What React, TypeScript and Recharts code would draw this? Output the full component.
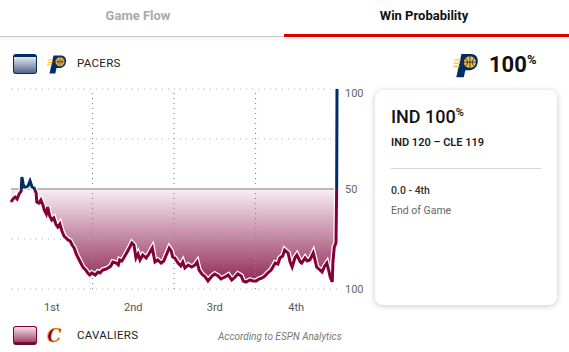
import { ComposedChart, Line, Area, XAxis, YAxis, ReferenceLine } from 'recharts';

// game clock in minutes elapsed, and Pacers win probability (%)
const gameMinutes = [
  0, 0.3, 0.6, 0.9, 1.2, 1.5, 1.6, 1.8, 1.9, 2.2,
  2.5, 2.8, 3.1, 3.4, 3.7, 3.8, 4.1, 4.4, 4.7, 4.9,
  5.2, 5.4, 5.7, 6.0, 6.3, 6.6, 6.9, 7.2, 7.5, 7.8,
  8.1, 8.4, 8.7, 9.0, 9.3, 9.6, 9.9, 10.2, 10.5, 10.7,
  11.0, 11.3, 11.6, 11.9, 12.4, 12.8, 13.1, 13.5, 14.0, 14.3,
  14.7, 15.0, 15.5, 15.8, 16.0, 16.3, 16.6, 17.1, 17.5, 17.8,
  18.1, 18.4, 18.7, 19.0, 19.4, 19.9, 20.3, 20.8, 21.2, 21.6,
  22.1, 22.5, 22.8, 23.3, 23.6, 23.8, 24.1, 24.6, 25.0, 25.3,
  25.6, 26.1, 26.6, 27.1, 27.4, 27.7, 28.1, 28.6, 29.0, 29.6,
  30.0, 30.5, 30.9, 31.5, 32.0, 32.5, 33.0, 33.4, 33.9, 34.2,
  34.6, 35.2, 35.6, 36.1, 36.5, 37.0, 37.4, 37.8, 38.3, 38.9,
  39.3, 39.6, 40.0, 40.3, 40.8, 41.1, 41.4, 41.8, 42.1, 42.6,
  42.8, 43.3, 43.6, 44.0, 44.5, 44.7, 45.0, 45.5, 45.8, 46.2,
  46.5, 46.8, 47.0, 47.3, 47.4, 47.6, 47.85, 47.95, 48,
];

const pacersWinPct = [
  43.5, 45, 46, 45, 47.5, 49, 56, 52.5, 51, 51,
  51.5, 54, 51, 50.5, 48, 43.5, 43, 44.5, 42, 39.5,
  37.5, 41, 36.5, 34.5, 35.5, 32.5, 31, 32.5, 29, 26.5,
  25.5, 24.5, 24, 22, 20.5, 17.5, 15.5, 13.5, 11.5, 10.5,
  9.5, 8, 7, 8, 7, 8.5, 8, 9.5, 10, 10.5,
  11.5, 13.5, 13, 12, 14.5, 14, 15.5, 18.5, 21, 23,
  22, 15.5, 17.5, 14.5, 17, 15.5, 17.5, 20.5, 13.5, 14.5,
  13, 14, 16.5, 20.5, 19, 16, 15.5, 13, 11.5, 13.5,
  10.5, 12, 11, 12, 13.5, 9.5, 7.5, 6, 4, 6.5,
  7.5, 6.5, 5, 6, 7, 4.5, 6, 7.5, 6.5, 4,
  3.5, 4.5, 4, 4, 5, 5.5, 6.5, 8, 9.5, 13,
  12.5, 15.5, 16.5, 19.5, 18, 13.5, 11, 15.5, 17, 13.5,
  13, 15.5, 14, 14.5, 18, 15.5, 11, 9.5, 8.5, 11.5,
  13, 9, 6, 3.5, 13.5, 21, 23, 50, 100,
];

const quarterCenters = [6, 18, 30, 42];
const quarterLabels = ['1st', '2nd', '3rd', '4th'];
const quarterBreaks = [12, 24, 36];
const probTicks = [0, 50, 100];
const dottedLevels = [100, 75, 25, 0];

const data = gameMinutes.map((t, i) => ({ t, p: pacersWinPct[i] }));

const NAVY = '#002D62';
const WINE = '#860038';

// plot area inside the svg (px)
const PLOT_TOP = 9;
const PLOT_BOTTOM = 209;

function PacersLogo({ size }: { size: number }) {
  return (
    <svg width={size} height={size} viewBox="0 0 20 20">
      <path d="M2.5 19.5 L6.5 1.5 H13.5 C17.5 1.5 19.5 4 19 8 C18.5 12 15.5 14 12 14 H9.5 L8.3 19.5 Z" fill={NAVY} />
      <circle cx="13" cy="7.8" r="4.6" fill="#FDBB30" />
      <path d="M8.6 7.8 H17.6 M13 3.2 V12.4 M9.6 4.8 Q13 8 9.6 11 M16.4 4.8 Q13 8 16.4 11" stroke={NAVY} strokeWidth="0.6" fill="none" />
      <path d="M1 6 H6 M0.5 8.5 H5.5 M0 11 H5" stroke="#FDBB30" strokeWidth="1" />
    </svg>
  );
}

function CavsLogo() {
  return (
    <svg width={24} height={22} viewBox="0 0 24 22">
      <text x="2" y="18" fontFamily="DejaVu Serif" fontStyle="italic" fontWeight="bold" fontSize="18" fill={WINE} stroke="#FDBB30" strokeWidth="0.7">C</text>
    </svg>
  );
}

const qTick = (v: number) => quarterLabels[quarterCenters.indexOf(v)] ?? '';
const pTick = (v: number) => (v === 50 ? '50' : '100');

function ProbTick({ x, y, payload }: any) {
  const v = payload.value;
  const dy = v === 100 ? 8 : 4;
  return (
    <text x={x} y={y + dy} fontSize={11} fill="#666" fontFamily="Roboto" textAnchor="start">{pTick(v)}</text>
  );
}

export default function App() {
  return (
    <div style={{ position: 'relative', width: 569, height: 352, background: '#fff', fontFamily: 'Roboto, sans-serif', overflow: 'hidden' }}>
      <style>{'body{margin:0}'}</style>

      {/* tabs */}
      <div style={{ position: 'absolute', left: 0, top: 8, width: 284, textAlign: 'center', fontSize: 13, fontWeight: 700, color: '#aaa' }}>
        <span style={{ marginLeft: -8 }}>Game Flow</span>
      </div>
      <div style={{ position: 'absolute', left: 284, top: 8, width: 285, textAlign: 'center', fontSize: 13, fontWeight: 700, color: '#111' }}>
        <span style={{ marginLeft: -5 }}>Win Probability</span>
      </div>
      <div style={{ position: 'absolute', left: 0, top: 36, width: 569, height: 1, background: '#c8c8c8', boxShadow: '0 2px 3px rgba(0,0,0,0.15)' }} />
      <div style={{ position: 'absolute', left: 284, top: 34, width: 285, height: 3, background: '#d00' }} />

      {/* pacers header */}
      <div style={{ position: 'absolute', left: 13, top: 54, width: 22, height: 16, border: `1.5px solid ${NAVY}`, borderTop: `3px solid ${NAVY}`, borderRadius: 3, background: 'linear-gradient(#e4e8ef, #52678a)' }} />
      <div style={{ position: 'absolute', left: 47, top: 54 }}><PacersLogo size={20} /></div>
      <div style={{ position: 'absolute', left: 77, top: 56, fontSize: 11.5, color: '#222', letterSpacing: 0.3 }}>PACERS</div>

      <div style={{ position: 'absolute', left: 453, top: 52 }}><PacersLogo size={26} /></div>
      <div style={{ position: 'absolute', left: 489, top: 52, fontSize: 22, fontWeight: 700, color: '#111', lineHeight: '26px' }}>
        100<span style={{ fontSize: 13, verticalAlign: 'top', lineHeight: '16px' }}>%</span>
      </div>

      {/* chart */}
      <div style={{ position: 'absolute', left: 0, top: 80 }}>
        <ComposedChart width={375} height={240} data={data} margin={{ top: PLOT_TOP, right: 8, bottom: 6, left: 11 }}>
          <defs>
            <linearGradient id="wpFill" gradientUnits="userSpaceOnUse" x1="0" y1={PLOT_TOP} x2="0" y2={PLOT_BOTTOM}>
              <stop offset="0.5" stopColor="#ffffff" stopOpacity={0} />
              <stop offset="0.5" stopColor="#f9eff3" stopOpacity={1} />
              <stop offset="1" stopColor="#8a1a4b" stopOpacity={1} />
            </linearGradient>
            <linearGradient id="wpStroke" gradientUnits="userSpaceOnUse" x1="0" y1={PLOT_TOP} x2="0" y2={PLOT_BOTTOM}>
              <stop offset="0.5" stopColor={NAVY} />
              <stop offset="0.5" stopColor={WINE} />
            </linearGradient>
          </defs>
          <XAxis dataKey="t" type="number" domain={[0, 48]} ticks={quarterCenters} tickFormatter={qTick}
            axisLine={false} tickLine={false} tickSize={0} tickMargin={14} height={25}
            tick={{ fontSize: 11, fill: '#555', fontFamily: 'Roboto' }} />
          <YAxis orientation="right" type="number" domain={[0, 100]} ticks={probTicks}
            axisLine={false} tickLine={false} tickSize={0} tickMargin={8} width={30}
            tick={<ProbTick />} />
          <Area type="linear" dataKey="p" baseValue={50} stroke="none" fill="url(#wpFill)" fillOpacity={1} isAnimationActive={false} />
          {dottedLevels.map((v) => (
            <ReferenceLine key={'h' + v} y={v} stroke="#b0b0b0" strokeDasharray="1 5" />
          ))}
          {quarterBreaks.map((v) => (
            <ReferenceLine key={'v' + v} x={v} stroke="#8a8a8a" strokeWidth={1.2} strokeDasharray="1 4" ifOverflow="visible" />
          ))}
          <ReferenceLine y={50} stroke="#b8b8b8" strokeWidth={2} />
          <Line type="linear" dataKey="p" stroke="#fff" strokeWidth={5.5} dot={false} activeDot={false} isAnimationActive={false} />
          <Line type="linear" dataKey="p" stroke="url(#wpStroke)" strokeWidth={3} dot={false} activeDot={false} isAnimationActive={false} />
        </ComposedChart>
      </div>

      {/* cavaliers footer */}
      <div style={{ position: 'absolute', left: 13, top: 326, width: 22, height: 15, border: `1px solid ${WINE}`, borderBottom: `3px solid #6c0b2f`, borderRadius: 3, background: 'linear-gradient(#f4e1e8, #a5446b)' }} />
      <div style={{ position: 'absolute', left: 45, top: 324 }}><CavsLogo /></div>
      <div style={{ position: 'absolute', left: 77, top: 328, fontSize: 11.5, color: '#222', letterSpacing: 0.3 }}>CAVALIERS</div>
      <div style={{ position: 'absolute', left: 218, top: 331, fontSize: 10, fontStyle: 'italic', color: '#777' }}>According to ESPN Analytics</div>

      {/* info card */}
      <div style={{ position: 'absolute', left: 375, top: 90, width: 182, height: 215, borderRadius: 8, background: '#fff', boxShadow: '0 1px 6px rgba(0,0,0,0.22)' }}>
        <div style={{ position: 'absolute', left: 16, top: 16, fontSize: 18, fontWeight: 500, color: '#111' }}>
          IND 100<span style={{ fontSize: 11, verticalAlign: 'top' }}>%</span>
        </div>
        <div style={{ position: 'absolute', left: 16, top: 46, fontSize: 11, fontWeight: 600, color: '#222' }}>IND 120 – CLE 119</div>
        <div style={{ position: 'absolute', left: 16, top: 78, width: 150, height: 1, background: '#d6d6d6' }} />
        <div style={{ position: 'absolute', left: 16, top: 94, fontSize: 10.5, fontWeight: 500, color: '#333' }}>0.0 - 4th</div>
        <div style={{ position: 'absolute', left: 16, top: 114, fontSize: 10.5, color: '#666' }}>End of Game</div>
      </div>
    </div>
  );
}
